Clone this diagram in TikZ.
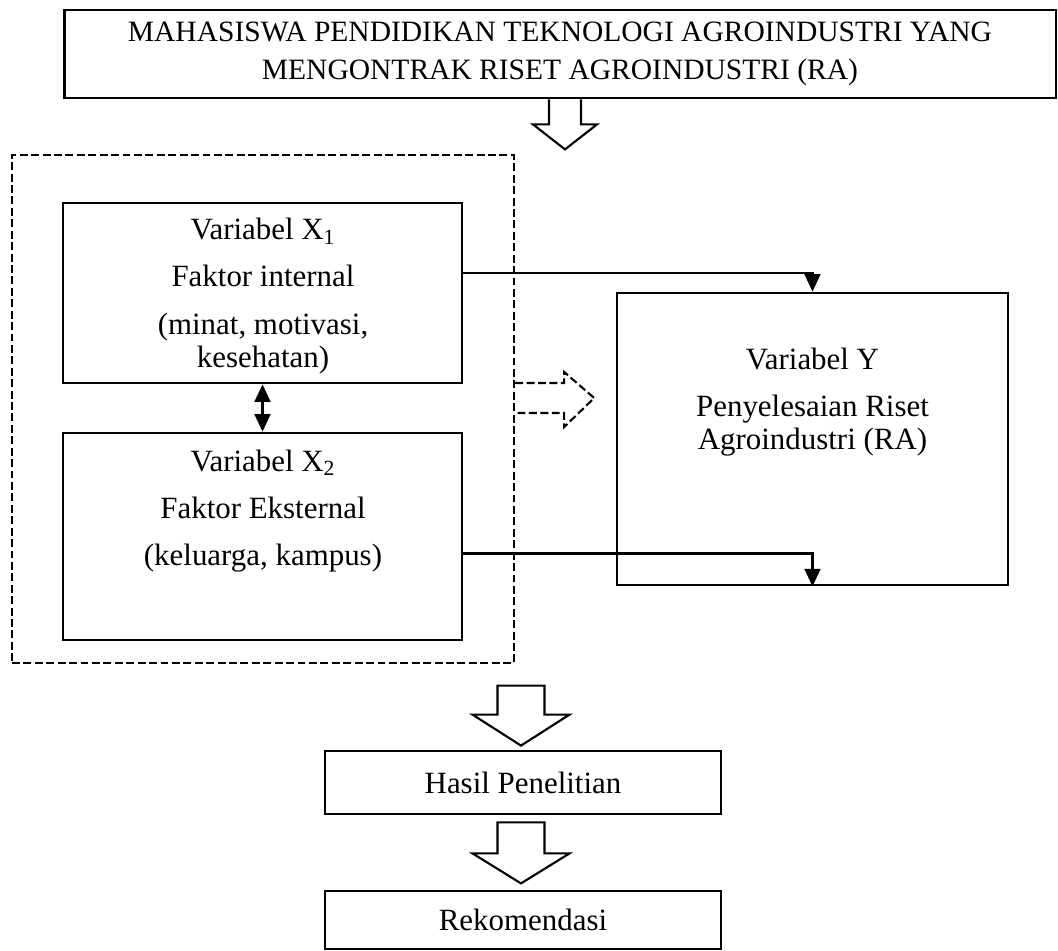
\documentclass[tikz,border=0pt]{standalone}
\usepackage{fontspec}
\setmainfont{Liberation Serif}
\usetikzlibrary{arrows.meta,calc,positioning}
\tikzset{
  box/.style={draw, line width=1.6pt, inner sep=0pt},
  txt/.style={align=center, font=\fontsize{17.6}{18.8}\selectfont},
  conn/.style={line width=1.3pt, -{Triangle[length=10pt,width=9pt]}},
  both/.style={line width=1.3pt, {Triangle[length=10pt,width=9pt]}-{Triangle[length=10pt,width=9pt]}},
  fat/.style={draw, line width=1.2pt, line join=miter},
  dash4/.style={dash pattern=on 4.5pt off 2pt},
  pics/fatdown/.style n args={4}{code={
    \draw[fat] (-#1,0) -- (-#1,#3) -- (-#2,#3) -- (0,#3+#4) -- (#2,#3) -- (#1,#3) -- (#1,0);
  }},
  pics/fatdownbox/.style n args={4}{code={
    \draw[fat] (-#1,0) -- (-#1,#3) -- (-#2,#3) -- (0,#3+#4) -- (#2,#3) -- (#1,#3) -- (#1,0) -- cycle;
  }},
}

\begin{document}
\begin{tikzpicture}[x=0.02cm, y=-0.02cm]
\useasboundingbox (0,0) rectangle (1058,950);
% heading
\node[box, txt, font=\fontsize{16.8}{18.8}\selectfont, minimum width=19.84cm, minimum height=1.76cm] (mhs) at (560,54)
  {MAHASISWA PENDIDIKAN TEKNOLOGI AGROINDUSTRI YANG\\[3pt] MENGONTRAK RISET AGROINDUSTRI (RA)};
\pic at ($(mhs.south)+(5,0)$) {fatdown={16}{32}{25}{25}};
% variables X1, X2 inside dashed frame
\node[draw, line width=1.4pt, dash4, inner sep=0pt,
  minimum width=10.04cm, minimum height=10.16cm] (frame) at (263,409) {};
\node[box, minimum width=7.98cm, minimum height=3.6cm] (x1) at (262.5,293) {};
\node[txt] (x1txt) at (263,296) {Variabel X\textsubscript{1}\\[8pt] Faktor internal\\[8pt] (minat, motivasi,\\ kesehatan)};
\node[box, minimum width=7.98cm, minimum height=4.14cm] (x2) at (262.5,536.5) {};
\node[txt] (x2txt) at (263,511) {Variabel X\textsubscript{2}\\[8pt] Faktor Eksternal\\[8pt] (keluarga, kampus)};
\draw[both] (x1.south) -- (x2.north);
% variable Y
\node[box, minimum width=7.82cm, minimum height=5.84cm] (ybox) at (812.5,439) {};
\node[txt] (ytxt) at (812.5,402) {Variabel Y\\[8pt] Penyelesaian Riset\\ Agroindustri (RA)};
\draw[conn] ([yshift=0.4cm]x1.east) -| (ybox.north);
\draw[conn] ([yshift=-0.34cm]x2.east) -| (ybox.south);
% dashed fat arrow
\draw[fat, dash4] ($(frame.east)+(0,-26)$) -- ++(49,0) -- ++(0,-11)
  -- ++(30,26) -- ++(-30,29) -- ++(0,-14) -- ++(-49,0);
% results
\node[box, txt, minimum width=7.92cm, minimum height=1.26cm] (hasil) at (523,782.5) {Hasil Penelitian};
\node[box, txt, minimum width=7.92cm, minimum height=1.16cm] (rekom) at (523,920) {Rekomendasi};
\pic at ($(hasil.north)+(-2,-64)$) {fatdownbox={23.5}{48.5}{29}{31}};
\pic at ($(hasil.south)+(-2,7)$) {fatdownbox={23.5}{48.5}{31}{30}};
\end{tikzpicture}
\end{document}
